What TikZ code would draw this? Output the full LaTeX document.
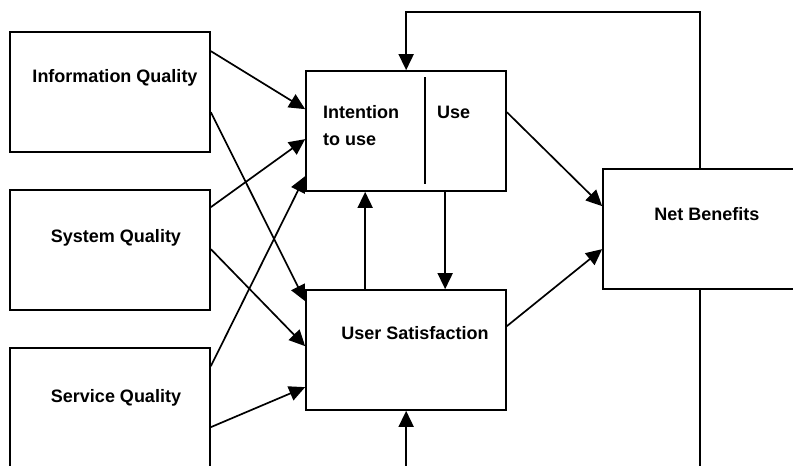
\documentclass[tikz,border=0pt]{standalone}
\usepackage{fontspec}
\setmainfont{Liberation Sans}
\usetikzlibrary{arrows.meta,calc}
\begin{document}
\begin{tikzpicture}[x=1pt,y=-1pt,
  box/.style={draw, line width=1.7pt, rectangle, inner sep=0pt},
  lbl/.style={font=\fontsize{18}{27}\selectfont\bfseries, inner sep=0pt},
  arr/.style={line width=1.7pt, -{Triangle[length=16pt,width=15pt]}},
  ln/.style={line width=1.7pt}]
\clip (0,0) rectangle (793,466);
\fill[white] (0,0) rectangle (793,466);
% boxes
\node[box, minimum width=200pt, minimum height=120pt] (iq)  at (110,92)  {};
\node[box, minimum width=200pt, minimum height=120pt] (sq)  at (110,250) {};
\node[box, minimum width=200pt, minimum height=120pt] (svq) at (110,408) {};
\node[box, minimum width=200pt, minimum height=120pt] (iu)  at (406,131) {};
\node[box, minimum width=200pt, minimum height=120pt] (us)  at (406,350) {};
\node[box, minimum width=210pt, minimum height=120pt] (nb)  at (708,229) {};
% labels
\node[lbl, anchor=base] (iqt)  at (115,82)  {Information Quality};
\node[lbl, anchor=base] (sqt)  at (116,242) {System Quality};
\node[lbl, anchor=base] (svqt) at (116,402) {Service Quality};
\node[lbl, anchor=base west, align=left] (it) at (323,145) {Intention\\to use};
\node[lbl, anchor=base west] (ut) at (437,118) {Use};
\node[lbl, anchor=base] (ust) at (415,339) {User Satisfaction};
\node[lbl, anchor=base] (nbt) at (707,220) {Net Benefits};
% divider
\draw[ln] ([xshift=120pt,yshift=-7pt]iu.north west) -- ([xshift=120pt,yshift=8pt]iu.south west);
% input arrows
\draw[arr] ([yshift=-20pt]iq.north east)  -- ([yshift=-39pt]iu.north west);
\draw[arr] ([yshift=-81pt]iq.north east)  -- ([yshift=-12pt]us.north west);
\draw[arr] ([yshift=-18pt]sq.north east)  -- ([yshift=-69pt]iu.north west);
\draw[arr] ([yshift=-60pt]sq.north east)  -- ([yshift=-57pt]us.north west);
\draw[arr] ([yshift=-19pt]svq.north east) -- ([yshift=-106pt]iu.north west);
\draw[arr] ([yshift=-80pt]svq.north east) -- ([yshift=-98pt]us.north west);
% to net benefits
\draw[arr] ([yshift=-42pt]iu.north east) -- ([yshift=-38pt]nb.north west);
\draw[arr] ([yshift=-37pt]us.north east) -- ([yshift=-81pt]nb.north west);
% between intention/use and user satisfaction
\draw[arr] ([xshift=140pt]iu.south west) -- ([xshift=140pt]us.north west);
\draw[arr] ([xshift=60pt]us.north west) -- ([xshift=60pt]iu.south west);
% feedback loops
\draw[arr] ([xshift=98pt]nb.north west) -- ++(0,-156) -| ([xshift=101pt]iu.north west);
\draw[arr] ([xshift=98pt]nb.south west) -- ++(0,200) -| ([xshift=101pt]us.south west);
\end{tikzpicture}
\end{document}
